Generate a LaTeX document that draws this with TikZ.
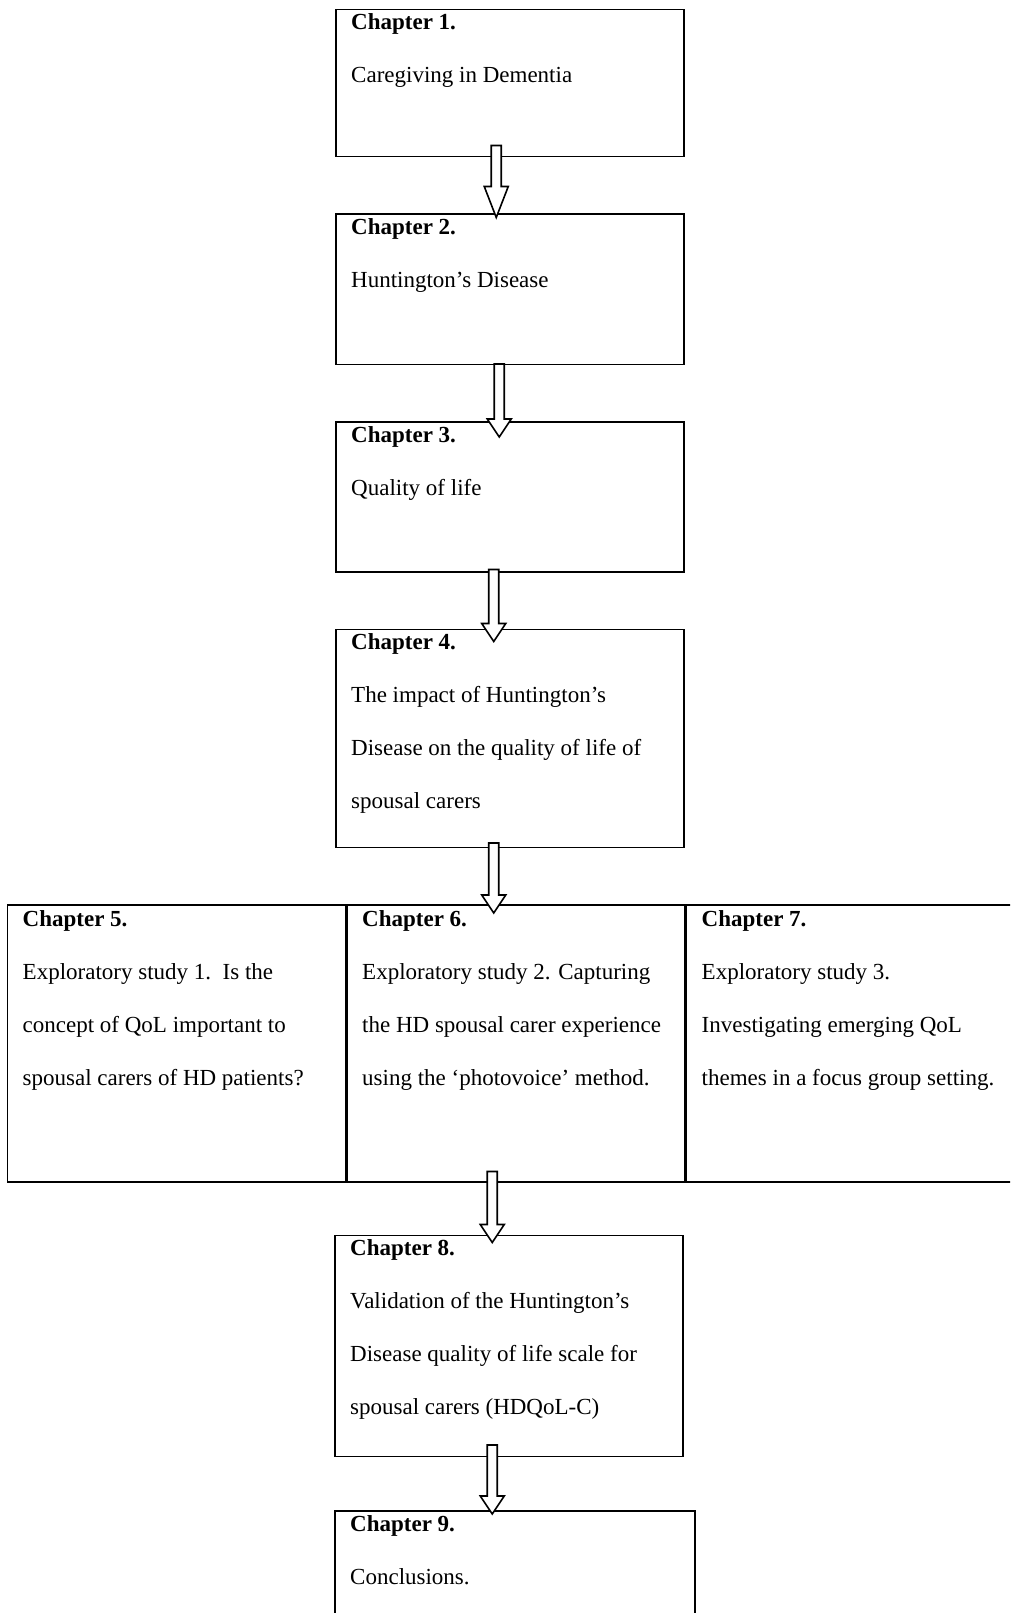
\documentclass[tikz,border=0pt]{standalone}
\usepackage{fontspec}
\setmainfont{Liberation Serif}
\usepackage{tikz}
\usetikzlibrary{positioning,calc}

% hollow block arrow: #1 head length, #2 shaft top, #3 tip
\newcommand{\chaparrow}[3][18]{%
  \draw[hollow] let \p1=(#2), \p2=(#3) in
    (\x1-5pt,\y1) -- (\x1-5pt,\y2+#1pt) -- (\x1-12pt,\y2+#1pt) -- (\x1,\y2)
    -- (\x1+12pt,\y2+#1pt) -- (\x1+5pt,\y2+#1pt) -- (\x1+5pt,\y1) -- cycle;}

\begin{document}
\begin{tikzpicture}[x=1pt,y=1pt,
    box/.style={draw=black,line width=1.5pt,minimum width=348pt,inner sep=0pt},
    cell/.style={box,minimum width=338pt,minimum height=277pt},
    txt/.style={anchor=north west,align=left,inner sep=0pt,
      font=\fontsize{23}{53}\selectfont},
    hollow/.style={draw=black,line width=1.6pt,fill=white,line join=miter}
  ]
    \useasboundingbox (0,0) rectangle (1010,-1613);
    \clip (0,0) rectangle (1010,-1613);
    \node[box,minimum height=147pt,anchor=north west] (c1) at (335,-9) {};
    \node[box,minimum height=150pt,below=56pt of c1] (c2) {};
    \node[box,minimum height=150pt,below=56pt of c2] (c3) {};
    \node[box,minimum height=218pt,below=56pt of c3] (c4) {};
    \node[cell,below=56pt of c4,xshift=6pt] (c6) {};
    \node[cell,left=0pt of c6] (c5) {};
    \node[cell,right=0pt of c6] (c7) {};
    \node[box,minimum height=221pt,below=52pt of c6,xshift=-7pt] (c8) {};
    \node[box,minimum width=360pt,minimum height=150pt,
      below=53pt of c8.south west,anchor=north west] (c9) {};
    \chaparrow[31]{$(c1.south)+(-13.5,12)$}{$(c2.north)+(-13.5,-4)$}
    \chaparrow{$(c2.south)+(-10.5,1)$}{$(c3.north)+(-10.5,-16)$}
    \chaparrow{$(c3.south)+(-16,3)$}{$(c4.north)+(-16,-13)$}
    \chaparrow{$(c4.south)+(-16,5)$}{$(c6.north)+(-22,-9)$}
    \chaparrow{$(c6.south)+(-23.5,11)$}{$(c8.north)+(-16.5,-8)$}
    \chaparrow{$(c8.south)+(-16.5,12)$}{$(c9.north)+(-20.5,-4)$}
    \node[txt] (t1) at ($(c1.north west)+(16,-4)$)
      {\textbf{Chapter 1.}\\Caregiving in Dementia};
    \node[txt] (t2) at ($(c2.north west)+(16,-5)$)
      {\textbf{Chapter 2.}\\Huntington's Disease};
    \node[txt] (t3) at ($(c3.north west)+(16,-5)$)
      {\textbf{Chapter 3.}\\Quality of life};
    \node[txt] (t4) at ($(c4.north west)+(16,-5)$)
      {\textbf{Chapter 4.}\\The impact of Huntington's\\Disease on the quality of life of\\spousal carers};
    \node[txt] (t5) at ($(c5.north west)+(16,-6)$)
      {\textbf{Chapter 5.}\\Exploratory study 1.\ \ Is the\\concept of QoL important to\\spousal carers of HD patients?};
    \node[txt] (t6) at ($(c6.north west)+(16,-6)$)
      {\textbf{Chapter 6.}\\Exploratory study 2. Capturing\\the HD spousal carer experience\\using the `photovoice' method.};
    \node[txt] (t7) at ($(c7.north west)+(16,-6)$)
      {\textbf{Chapter 7.}\\Exploratory study 3.\\Investigating emerging QoL\\themes in a focus group setting.};
    \node[txt] (t8) at ($(c8.north west)+(16,-5)$)
      {\textbf{Chapter 8.}\\Validation of the Huntington's\\Disease quality of life scale for\\spousal carers (HDQoL-C)};
    \node[txt] (t9) at ($(c9.north west)+(16,-5)$)
      {\textbf{Chapter 9.}\\Conclusions.};
  \end{tikzpicture}
\end{document}
